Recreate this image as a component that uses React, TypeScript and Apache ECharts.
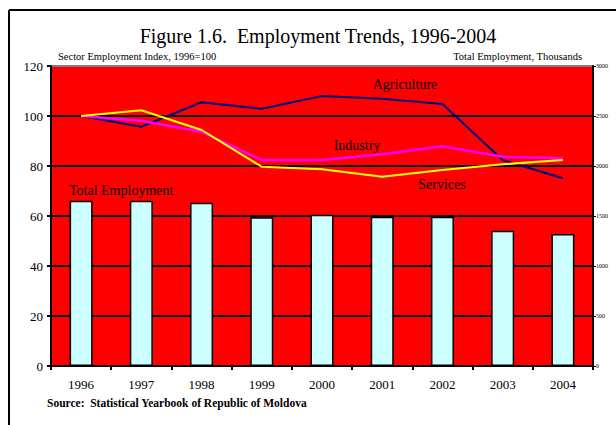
import React, { useEffect, useRef } from "react";
import * as echarts from "echarts";

const years = ["1996", "1997", "1998", "1999", "2000", "2001", "2002", "2003", "2004"];
const agriculture = [100, 95.7, 105.5, 102.9, 108, 106.9, 104.8, 82.4, 75.1];
const industry = [100, 98.1, 93.7, 82.4, 82.4, 84.7, 87.9, 83.7, 83.1];
const services = [100, 102.3, 94.4, 79.7, 78.7, 75.7, 78.4, 80.7, 82.4];
const totalEmployment = [1653, 1653, 1633, 1487, 1513, 1493, 1493, 1353, 1320];

const SERIF = "Liberation Serif";

export default function App() {
  const ref = useRef<HTMLDivElement>(null);
  useEffect(() => {
    if (!ref.current) return;
    const chart = echarts.init(ref.current, undefined, { renderer: "svg" });
    const txt = (x: number, y: number, text: string, size: number, align: string = "left", weight: string = "normal") => ({
      type: "text",
      x,
      y,
      z: 100,
      style: {
        text,
        fill: "#000",
        fontFamily: SERIF,
        fontSize: size,
        fontWeight: weight,
        align,
        verticalAlign: "middle",
      },
    });
    chart.setOption({
      animation: false,
      backgroundColor: "#fff",
      textStyle: { fontFamily: SERIF },
      grid: {
        left: 51,
        top: 66,
        width: 542,
        height: 300,
        show: true,
        backgroundColor: "#ff0000",
        borderWidth: 0,
      },
      xAxis: {
        type: "category",
        data: years,
        boundaryGap: true,
        axisLine: { lineStyle: { color: "#000", width: 2 } },
        axisTick: { show: true, length: 4, lineStyle: { color: "#000", width: 2 } },
        axisLabel: { color: "#000", fontSize: 13, fontFamily: SERIF, margin: 12 },
        splitLine: { show: false },
      },
      yAxis: [
        {
          type: "value",
          min: 0,
          max: 120,
          interval: 20,
          position: "left",
          axisLine: { show: true, lineStyle: { color: "#000", width: 2 } },
          axisTick: { show: true, length: 4, lineStyle: { color: "#000", width: 2 } },
          axisLabel: { color: "#000", fontSize: 13, fontFamily: SERIF, margin: 8 },
          splitLine: {
            show: true,
            lineStyle: {
              color: ["#000", "#000", "#000", "#000", "#000", "#000", "#808080"],
              width: 2,
            },
          },
        },
        {
          type: "value",
          min: 0,
          max: 3000,
          interval: 500,
          position: "right",
          axisLine: { show: true, lineStyle: { color: "#000", width: 2 } },
          axisTick: { show: true, length: 3, lineStyle: { color: "#000", width: 1 } },
          axisLabel: {
            color: "#000",
            fontSize: 6,
            fontFamily: SERIF,
            margin: 3,
            formatter: (v: number) => String(v),
          },
          splitLine: { show: false },
        },
      ],
      series: [
        {
          name: "Total Employment",
          type: "bar",
          yAxisIndex: 1,
          data: totalEmployment,
          barWidth: 23,
          itemStyle: { color: "#ccffff", borderColor: "#000", borderWidth: 1.5 },
          z: 2,
        },
        {
          name: "Agriculture",
          type: "line",
          yAxisIndex: 0,
          data: agriculture,
          symbol: "none",
          lineStyle: { color: "#000080", width: 2 },
          z: 3,
        },
        {
          name: "Industry",
          type: "line",
          yAxisIndex: 0,
          data: industry,
          symbol: "none",
          lineStyle: { color: "#ff00ff", width: 2.5 },
          z: 3,
        },
        {
          name: "Services",
          type: "line",
          yAxisIndex: 0,
          data: services,
          symbol: "none",
          lineStyle: { color: "#ffff00", width: 2 },
          z: 4,
        },
      ],
      graphic: [
        { type: "line", shape: { x1: 9, y1: 10, x2: 9, y2: 425 }, style: { stroke: "#000", lineWidth: 2 } },
        { type: "line", shape: { x1: 9, y1: 10, x2: 616, y2: 10 }, style: { stroke: "#000", lineWidth: 2 } },
        txt(318, 36, "Figure 1.6.  Employment Trends, 1996-2004", 20, "center"),
        txt(58, 56, "Sector Employment Index, 1996=100", 10.5, "left"),
        txt(582, 56, "Total Employment, Thousands", 10.5, "right"),
        txt(405, 84, "Agriculture", 14, "center"),
        txt(357, 145, "Industry", 14, "center"),
        txt(442, 184, "Services", 14, "center"),
        txt(69, 190, "Total Employment", 14, "left"),
        txt(47, 403, "Source:  Statistical Yearbook of Republic of Moldova", 11.5, "left", "bold"),
      ],
    });
    return () => chart.dispose();
  }, []);
  return (
    <div
      ref={ref}
      style={{ position: "fixed", left: 0, top: 0, width: 616, height: 425 }}
    />
  );
}
